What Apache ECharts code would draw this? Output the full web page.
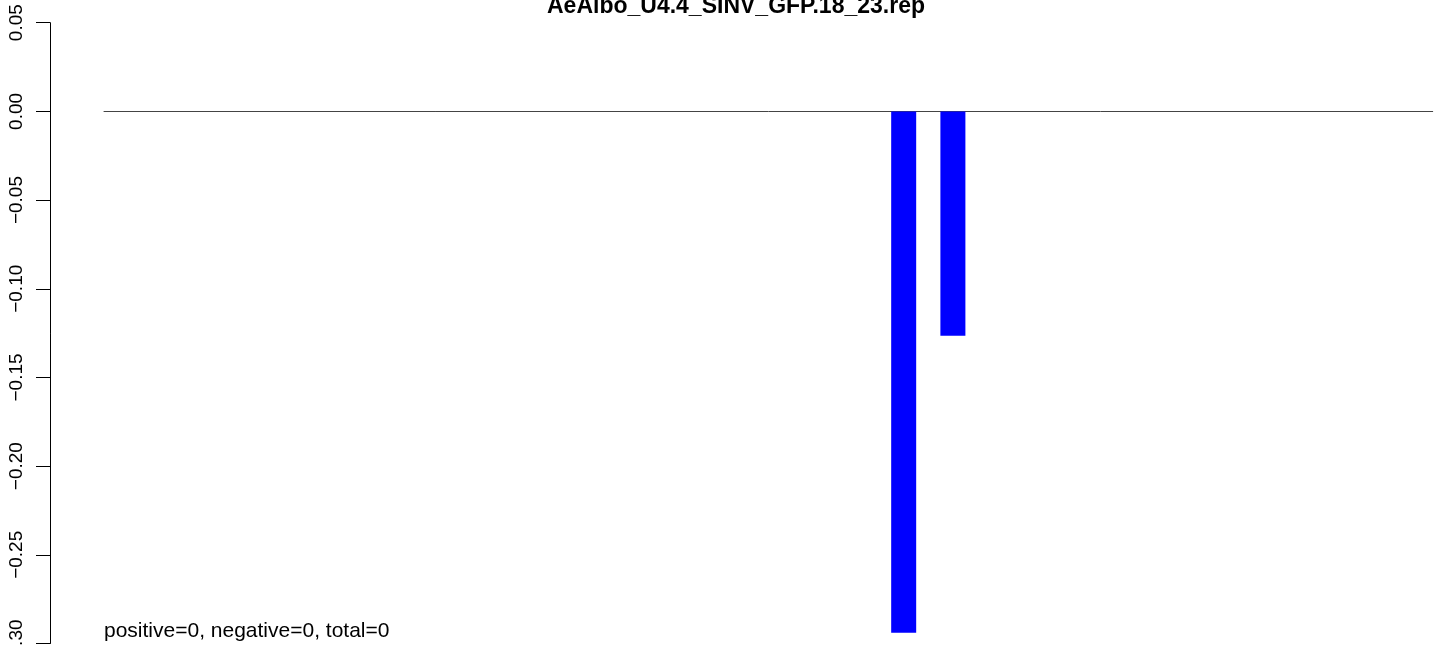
<!DOCTYPE html>
<html>
<head>
<meta charset="utf-8">
<script src="https://cdn.jsdelivr.net/npm/echarts@6/dist/echarts.min.js"></script>
<style>
html,body{margin:0;padding:0;background:#fff;}
#chart{width:1436px;height:645px;}
</style>
</head>
<body>
<div id="chart"></div>
<script>
// ---- data ----
const titleText = "AeAlbo_U4.4_SINV_GFP.18_23.rep";
const footText = "positive=0, negative=0, total=0";
const barIds = ["1","2","3","4","5","6","7","8","9","10","11","12","13","14","15","16","17","18","19","20","21","22","23","24","25","26","27"];
const barValues = [0,0,0,0,0,0,0,0,0,0,0,0,0,0,0,0,-0.294,-0.1265,0,0,0,0,0,0,0,0,0];
const yTickValues = [0.05, 0.00, -0.05, -0.10, -0.15, -0.20, -0.25, -0.30];
const yTickLabels = ["0.05", "0.00", "\u22120.05", "\u22120.10", "\u22120.15", "\u22120.20", "\u22120.25", "\u22120.30"];

// build slots: each bar followed by an empty gap slot (barplot space = 1)
const slotCats = [];
const slotVals = [];
barIds.forEach((id, i) => {
  slotCats.push(id);
  slotVals.push(barValues[i]);
  slotCats.push(id + "_gap");
  slotVals.push(null);
});

const chart = echarts.init(document.getElementById('chart'), null, {renderer: 'canvas'});
const FONT = "'Liberation Sans', Arial, sans-serif";
chart.setOption({
  animation: false,
  backgroundColor: '#ffffff',
  title: {
    text: titleText,
    left: 542,
    top: -10,
    textStyle: {fontFamily: FONT, fontWeight: 'bold', fontSize: 23, color: '#000'}
  },
  grid: {left: 104, right: 3.3, top: 22.7, bottom: 1.5, containLabel: false, outerBoundsMode: 'none'},
  xAxis: {
    type: 'category',
    data: slotCats,
    boundaryGap: true,
    axisLine: {show: true, onZero: true, lineStyle: {color: '#444', width: 1}},
    axisTick: {show: false},
    axisLabel: {show: false},
    splitLine: {show: false}
  },
  yAxis: {
    type: 'value',
    min: -0.30,
    max: 0.05,
    interval: 0.05,
    offset: 54,
    axisLine: {show: true, lineStyle: {color: '#000', width: 1}},
    axisTick: {show: true, length: 14, lineStyle: {color: '#000', width: 1}},
    splitLine: {show: false},
    axisLabel: {
      rotate: 90,
      margin: 24,
      fontFamily: FONT,
      fontSize: 19,
      color: '#000',
      formatter: function (v) {
        const idx = Math.round((yTickValues[0] - v) / 0.05);
        return yTickLabels[idx] !== undefined ? yTickLabels[idx] : '';
      }
    }
  },
  series: [{
    type: 'bar',
    data: slotVals,
    barWidth: 25,
    itemStyle: {color: '#0000ff'},
    silent: true
  }],
  graphic: [{
    type: 'text',
    left: 104,
    top: 621,
    style: {text: footText, font: "21px " + FONT, fill: '#000'}
  }]
});
</script>
</body>
</html>
